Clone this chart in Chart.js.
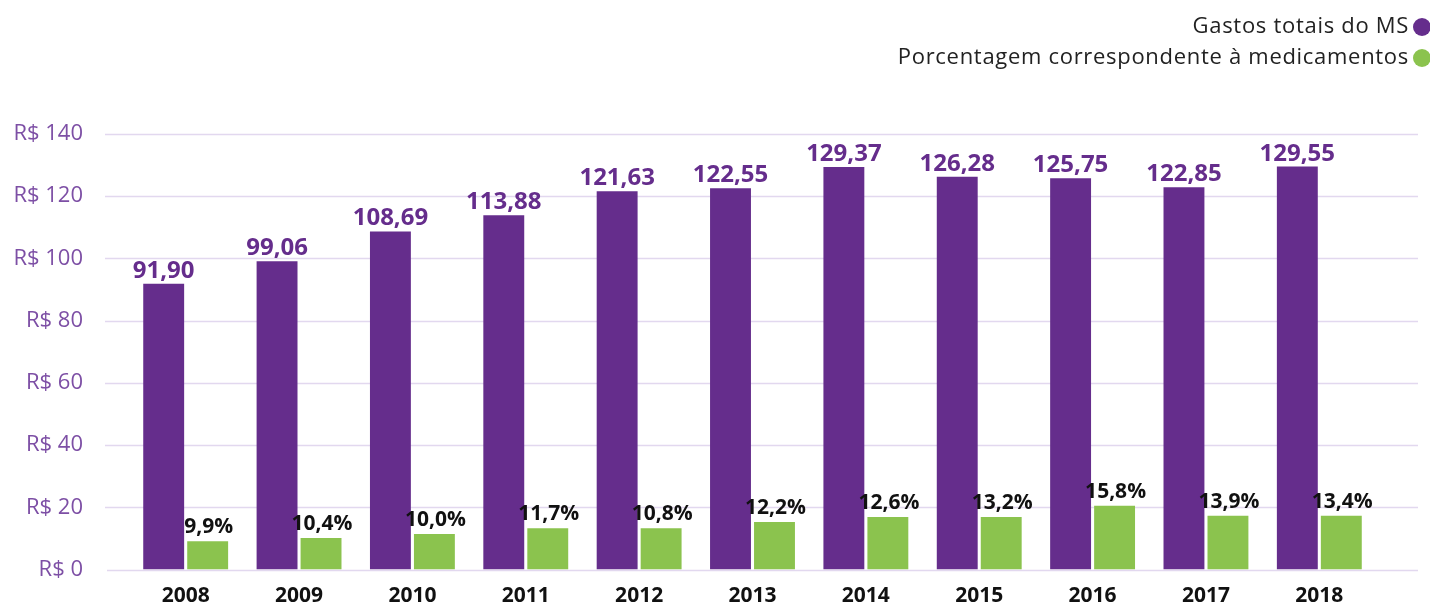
<!DOCTYPE html>
<html>
<head>
<meta charset="utf-8">
<script src="https://cdn.jsdelivr.net/npm/chart.js"></script>
<style>
  html, body { margin: 0; padding: 0; background: #fff; overflow: hidden; }
  #wrap { position: relative; width: 1430px; height: 602px; }
  canvas { display: block; }
  #legend { position: absolute; top: 9px; right: -1px; font-family: "Open Sans", sans-serif; font-size: 22px; letter-spacing: 0.7px; color: #222; text-align: right; }
  #legend div { height: 31px; line-height: 31px; white-space: nowrap; }
  #legend span.dot { display: inline-block; width: 18px; height: 18px; border-radius: 50%; vertical-align: -3px; margin-left: 4px; }
</style>
</head>
<body>
<div id="wrap">
  <canvas id="chart" width="1430" height="602"></canvas>
  <div id="legend"></div>
</div>
<script>
// dados
const years = ["2008", "2009", "2010", "2011", "2012", "2013", "2014", "2015", "2016", "2017", "2018"];
const gastosTotais = [91.90, 99.06, 108.69, 113.88, 121.63, 122.55, 129.37, 126.28, 125.75, 122.85, 129.55];
const gastosMedicamentos = [9.1, 10.1, 11.4, 13.3, 13.3, 15.3, 16.9, 16.9, 20.5, 17.3, 17.3];
const porcentagem = ["9,9%", "10,4%", "10,0%", "11,7%", "10,8%", "12,2%", "12,6%", "13,2%", "15,8%", "13,9%", "13,4%"];
const yTicks = [0, 20, 40, 60, 80, 100, 120, 140];

const PURPLE = "#652d8c";
const GREEN = "#8bc34e";
const FONT = "'Open Sans', sans-serif";

// linhas de grade mais largas que a area do grafico
const gridPlugin = {
  id: "wideGrid",
  beforeDatasetsDraw(chart) {
    const { ctx, scales: { y } } = chart;
    ctx.save();
    ctx.strokeStyle = "#e2d8ef";
    ctx.lineWidth = 1.5;
    yTicks.forEach(v => {
      const py = Math.round(y.getPixelForValue(v)) + 0.5;
      ctx.beginPath();
      ctx.moveTo(v === 0 ? 107 : 105, py);
      ctx.lineTo(1418, py);
      ctx.stroke();
    });
    ctx.restore();
  }
};

// rotulos acima das barras
const labelPlugin = {
  id: "barLabels",
  afterDatasetsDraw(chart) {
    const { ctx } = chart;
    ctx.save();
    ctx.textAlign = "center";
    ctx.textBaseline = "alphabetic";
    chart.getDatasetMeta(0).data.forEach((bar, i) => {
      ctx.font = "bold 24px " + FONT;
      ctx.fillStyle = PURPLE;
      ctx.fillText(gastosTotais[i].toFixed(2).replace(".", ","), bar.x, bar.y - 6);
    });
    chart.getDatasetMeta(1).data.forEach((bar, i) => {
      ctx.font = "bold 21px " + FONT;
      ctx.fillStyle = "#111";
      ctx.fillText(porcentagem[i], bar.x + 1, bar.y - 8);
    });
    ctx.restore();
  }
};

const chart = new Chart(document.getElementById("chart").getContext("2d"), {
  type: "bar",
  data: {
    labels: years,
    datasets: [
      { label: "Gastos totais do MS", data: gastosTotais, backgroundColor: PURPLE, barPercentage: 0.93, categoryPercentage: 0.776 },
      { label: "Porcentagem correspondente à medicamentos", data: gastosMedicamentos, backgroundColor: GREEN, barPercentage: 0.93, categoryPercentage: 0.776 }
    ]
  },
  options: {
    responsive: false,
    animation: false,
    layout: { padding: { top: 134, right: 54, left: 0, bottom: 0 } },
    plugins: {
      legend: { display: false },
      tooltip: { enabled: false }
    },
    scales: {
      x: {
        grid: { display: false, drawTicks: false },
        border: { display: false },
        ticks: { color: "#111", font: { family: FONT, size: 21, weight: "bold" }, padding: 14 },
        afterFit(scale) { scale.height = 32.5; }
      },
      y: {
        min: 0,
        max: 140,
        grid: { display: false, drawTicks: false },
        border: { display: false },
        afterBuildTicks(scale) { scale.ticks = yTicks.map(v => ({ value: v })); },
        ticks: {
          color: "#7d4fa5",
          padding: 46,
          font: { family: FONT, size: 22 },
          callback: v => "R$ " + v
        },
        afterFit(scale) {
          scale.width = 129;
          // o padding dos ticks nao deve empurrar a area para cima
          scale.paddingTop = 0;
          scale.paddingBottom = 0;
        }
      }
    }
  },
  plugins: [gridPlugin, labelPlugin]
});

// legenda
const legend = document.getElementById("legend");
chart.data.datasets.forEach(ds => {
  const row = document.createElement("div");
  row.innerHTML = `${ds.label}<span class="dot" style="background:${ds.backgroundColor}"></span>`;
  legend.appendChild(row);
});
</script>
</body>
</html>
